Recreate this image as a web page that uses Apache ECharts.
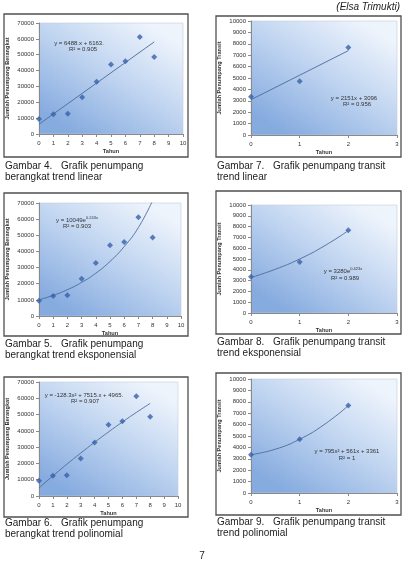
<!DOCTYPE html>
<html>
<head>
<meta charset="utf-8">
<script src="https://cdn.jsdelivr.net/npm/echarts@6/dist/echarts.min.js"></script>
<style>
html,body{margin:0;padding:0;background:#fff;}
#main{width:416px;height:563px;}
</style>
</head>
<body>
<div id="main"></div>
<script>
// ---- data ----
const tahunBerangkat = [0, 1, 2, 3, 4, 5, 6, 7, 8];
const penumpangBerangkat = [9400, 12400, 12800, 23100, 32900, 43800, 45900, 61200, 48600];
const tahunTransit = [0, 1, 2];
const penumpangTransit = [3350, 4720, 7670];

const trenLinBerX = [0, 8];
const trenLinBerY = [6163, 58067];
const trenEksBerX = [0, 1, 2, 3, 4, 5, 6, 7, 8];
const trenEksBerY = [10049, 12800, 16300, 20800, 26500, 33800, 43000, 54800, 71500];
const trenPolBerX = [0, 1, 2, 3, 4, 5, 6, 7, 8];
const trenPolBerY = [4965, 12352, 19482, 26356, 32972, 39332, 45436, 51282, 56872];

const trenLinTrX = [0, 2];
const trenLinTrY = [3096, 7398];
const trenEksTrX = [0, 0.5, 1, 1.5, 2];
const trenEksTrY = [3280, 4050, 5000, 6190, 7630];
const trenPolTrX = [0, 0.5, 1, 1.5, 2];
const trenPolTrY = [3361, 3840, 4717, 5990, 7663];

const judulY = ['Jumlah Penumpang Berangkat', 'Jumlah Penumpang Transit'];
const judulX = 'Tahun';

const zip = (xs, ys) => xs.map((x, i) => [x, ys[i]]);

// ---- layout ----
const panels = [
  {kind: 0, box: [4, 14, 184, 143], grid: [39, 23, 144, 111], nameGapX: 14,
   pts: zip(tahunBerangkat, penumpangBerangkat), trend: zip(trenLinBerX, trenLinBerY), smooth: false,
   eq: [{t: 'y = 6488.x + 6163.', x: 79, y: 43}, {t: 'R² = 0.905', x: 83, y: 49}],
   cap: ['Gambar 4.', 'Grafik penumpang', 'berangkat trend linear'], capY: 166},
  {kind: 1, box: [216, 16, 185, 141], grid: [251, 21, 146, 114], nameGapX: 14,
   pts: zip(tahunTransit, penumpangTransit), trend: zip(trenLinTrX, trenLinTrY), smooth: false,
   eq: [{t: 'y = 2151x + 3096', x: 354, y: 98}, {t: 'R² = 0.956', x: 357, y: 104}],
   cap: ['Gambar 7.', 'Grafik penumpang transit', 'trend linear'], capY: 166},
  {kind: 0, box: [4, 193, 184, 143], grid: [39, 203, 142, 113], nameGapX: 14,
   pts: zip(tahunBerangkat, penumpangBerangkat), trend: zip(trenEksBerX, trenEksBerY), smooth: true,
   eq: [{rich: '{a|y = 10049e}{s|0.243x}', x: 77, y: 220}, {t: 'R² = 0.903', x: 77, y: 226}],
   cap: ['Gambar 5.', 'Grafik penumpang', 'berangkat trend eksponensial'], capY: 344},
  {kind: 1, box: [216, 191, 185, 143], grid: [251, 205, 146, 108], nameGapX: 14,
   pts: zip(tahunTransit, penumpangTransit), trend: zip(trenEksTrX, trenEksTrY), smooth: true,
   eq: [{rich: '{a|y = 3280e}{s|0.423x}', x: 343, y: 271}, {t: 'R² = 0.989', x: 345, y: 278}],
   cap: ['Gambar 8.', 'Grafik penumpang transit', 'trend eksponensial'], capY: 342},
  {kind: 0, box: [4, 377, 184, 140], grid: [39, 382, 139, 114], nameGapX: 14,
   pts: zip(tahunBerangkat, penumpangBerangkat), trend: zip(trenPolBerX, trenPolBerY), smooth: true,
   eq: [{t: 'y = -128.3x² + 7515.x + 4965.', x: 84, y: 395}, {t: 'R² = 0.907', x: 85, y: 401}],
   cap: ['Gambar 6.', 'Grafik penumpang', 'berangkat trend polinomial'], capY: 523},
  {kind: 1, box: [216, 373, 185, 142], grid: [251, 379, 146, 114], nameGapX: 14,
   pts: zip(tahunTransit, penumpangTransit), trend: zip(trenPolTrX, trenPolTrY), smooth: true,
   eq: [{t: 'y = 795x² + 561x + 3361', x: 347, y: 451}, {t: 'R² = 1', x: 347, y: 458}],
   cap: ['Gambar 9.', 'Grafik penumpang transit', 'trend polinomial'], capY: 522}
];

const chart = echarts.init(document.getElementById('main'), null, {renderer: 'canvas'});
const font = 'Liberation Sans, Arial, sans-serif';
const grids = [], xAxes = [], yAxes = [], series = [], graphics = [];
const axisCol = '#8a8a8a';
const labelStyle = {fontSize: 6, color: '#333', fontFamily: font, formatter: v => String(v)};

panels.forEach((p, i) => {
  const ber = p.kind === 0;
  grids.push({
    left: p.grid[0], top: p.grid[1], width: p.grid[2], height: p.grid[3],
    show: true, borderWidth: 0.6, borderColor: '#c5cfdf',
    backgroundColor: new echarts.graphic.LinearGradient(0.75, 0, 0.25, 1, [
      {offset: 0, color: '#eef4fc'},
      {offset: 0.45, color: '#c2d6f1'},
      {offset: 1, color: '#86abdf'}
    ])
  });
  xAxes.push({
    type: 'value', gridIndex: i, min: 0, max: ber ? 10 : 3, interval: 1,
    name: judulX, nameLocation: 'middle', nameGap: p.nameGapX,
    nameTextStyle: {fontSize: 5.6, fontWeight: 'bold', color: '#333', fontFamily: font},
    axisLine: {show: true, lineStyle: {color: axisCol, width: 1}},
    axisTick: {show: true, length: 3, lineStyle: {color: axisCol}},
    axisLabel: Object.assign({margin: 6}, labelStyle),
    splitLine: {show: false}
  });
  yAxes.push({
    type: 'value', gridIndex: i, min: 0, max: ber ? 70000 : 10000, interval: ber ? 10000 : 1000,
    name: judulY[p.kind], nameLocation: 'middle', nameGap: 29,
    nameTextStyle: {fontSize: 5.6, fontWeight: 'bold', color: '#333', fontFamily: font},
    axisLine: {show: true, lineStyle: {color: axisCol, width: 1}},
    axisTick: {show: true, length: 3, lineStyle: {color: axisCol}},
    axisLabel: Object.assign({margin: 5}, labelStyle),
    splitLine: {show: false}
  });
  series.push({
    type: 'line', xAxisIndex: i, yAxisIndex: i, data: p.trend, smooth: p.smooth ? 0.5 : false,
    showSymbol: false, symbol: 'none', clip: true, silent: true,
    lineStyle: {color: '#4c6a9c', width: 0.9}, z: 2
  });
  series.push({
    type: 'scatter', xAxisIndex: i, yAxisIndex: i, data: p.pts,
    symbol: 'diamond', symbolSize: 6, itemStyle: {color: '#3761a9'}, z: 3
  });
  graphics.push({type: 'rect', shape: {x: p.box[0], y: p.box[1], width: p.box[2], height: p.box[3]},
    style: {fill: null, stroke: '#505050', lineWidth: 1.3}, z: 100});
  p.eq.forEach(e => {
    graphics.push({type: 'text', x: e.x, y: e.y, z: 101,
      style: e.rich ? {
        text: e.rich, align: 'center', verticalAlign: 'middle', fontFamily: font,
        rich: {a: {fontSize: 6, fill: '#333', fontFamily: font},
               s: {fontSize: 4, fill: '#333', fontFamily: font, padding: [0, 0, 4, 0]}}
      } : {text: e.t, fontSize: 6, fill: '#333', align: 'center', verticalAlign: 'middle', fontFamily: font}
    });
  });
  const cx = p.box[0];
  graphics.push({type: 'text', x: cx + 1, y: p.capY, z: 101,
    style: {text: p.cap[0], fontSize: 10, fill: '#222', verticalAlign: 'middle', fontFamily: font}});
  graphics.push({type: 'text', x: cx + 57, y: p.capY, z: 101,
    style: {text: p.cap[1], fontSize: 10, fill: '#222', verticalAlign: 'middle', fontFamily: font}});
  graphics.push({type: 'text', x: cx + 1, y: p.capY + 11, z: 101,
    style: {text: p.cap[2], fontSize: 10, fill: '#222', verticalAlign: 'middle', fontFamily: font}});
});

graphics.push({type: 'text', x: 400, y: 7, z: 101,
  style: {text: '(Elsa Trimukti)', fontSize: 10, fontStyle: 'italic', fill: '#222', align: 'right', verticalAlign: 'middle', fontFamily: font}});
graphics.push({type: 'text', x: 202, y: 556, z: 101,
  style: {text: '7', fontSize: 10, fill: '#222', align: 'center', verticalAlign: 'middle', fontFamily: font}});

chart.setOption({
  animation: false,
  backgroundColor: '#ffffff',
  grid: grids, xAxis: xAxes, yAxis: yAxes, series: series,
  graphic: graphics
});
</script>
</body>
</html>
